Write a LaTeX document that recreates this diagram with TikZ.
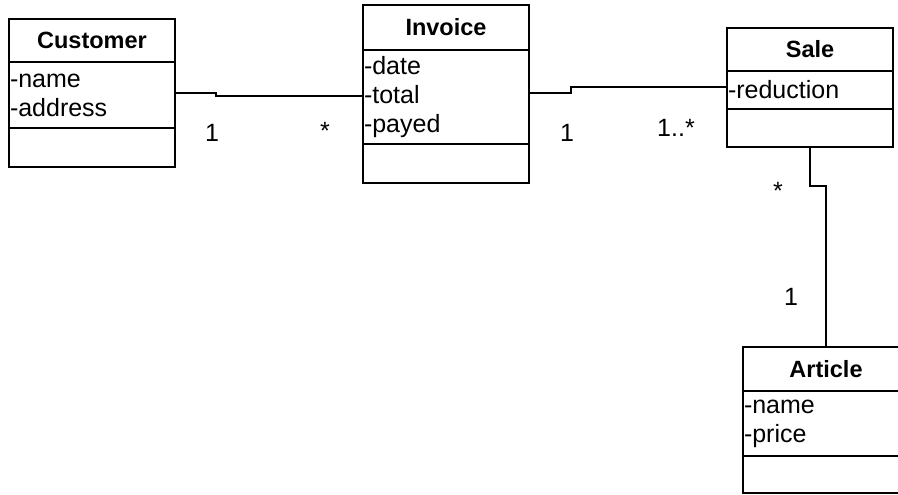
\documentclass[tikz,border=0pt]{standalone}
\usepackage{fontspec}
\setmainfont{Liberation Sans}
\usepackage{tikz}
\usetikzlibrary{positioning}

\begin{document}
\begin{tikzpicture}[x=1pt,y=-1pt,
		box/.style={draw,line width=2.8pt,outer sep=0pt,minimum width=166pt,text width=164pt,inner xsep=1pt,inner ysep=0pt},
		title/.style={box,align=center,font=\fontsize{23.5}{29}\selectfont\bfseries},
		attrs/.style={box,align=left,font=\fontsize{25}{29}\selectfont},
		mult/.style={font=\fontsize{25}{29}\selectfont,inner sep=0pt},
		link/.style={line width=2.8pt}]
			\useasboundingbox (0,0) rectangle (898,495);
			\node[title,minimum height=43pt] (ctitle) at (92,40.5) {Customer};
			\node[attrs,minimum height=66pt,below=0pt of ctitle] (cattr) {-name\\-address};
			\node[attrs,minimum height=39pt,below=0pt of cattr] (cmeth) {};
			\node[title,minimum height=45pt] (ititle) at (446,27.5) {Invoice};
			\node[attrs,minimum height=94pt,below=0pt of ititle] (iattr) {-date\\-total\\-payed};
			\node[attrs,minimum height=39pt,below=0pt of iattr] (imeth) {};
			\node[title,minimum height=43pt] (stitle) at (810,49.5) {Sale};
			\node[attrs,minimum height=38pt,below=0pt of stitle] (sattr) {-reduction};
			\node[attrs,minimum height=38pt,below=0pt of sattr] (smeth) {};
			\node[title,minimum height=44pt] (atitle) at (826,369) {Article};
			\node[attrs,minimum height=65pt,below=0pt of atitle] (aattr) {-name\\-price};
			\node[attrs,minimum height=37pt,below=0pt of aattr] (ameth) {};
			\draw[link] ([yshift=2pt]cattr.east) -- ++(41,0) |- ([yshift=1pt]iattr.west);
			\draw[link] ([yshift=4pt]iattr.east) -- ++(42,0) |- ([yshift=3pt]sattr.west);
			\draw[link] (smeth.south) -- ++(0,39) -| (atitle.north);
			\node[mult] (m1) at (212,133) {1};
			\node[mult] (m2) at (325,131) {*};
			\node[mult] (m3) at (567,133) {1};
			\node[mult] (m4) at (676,128) {1..*};
			\node[mult] (m5) at (778,191) {*};
			\node[mult] (m6) at (791,297) {1};
		\end{tikzpicture}
\end{document}
